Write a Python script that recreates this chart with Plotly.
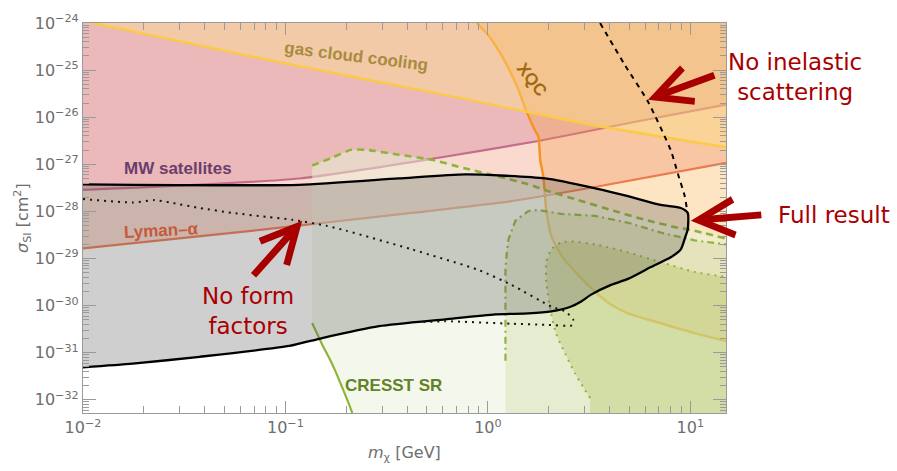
import numpy as np
import plotly.graph_objects as go

# ---------------- data (mass in GeV, cross-section in cm^2) ----------------
X_RANGE = (0.01, 15.0)
Y_RANGE = (10 ** -32.28, 1e-24)

MW_M = [0.01, 0.117, 0.571, 1.774, 5.51, 15]
MW_S = [2.86e-28, 5.0e-28, 1.38e-27, 3.13e-27, 8.2e-27, 1.86e-26]

LY_M = [0.01, 0.0769, 0.42, 1.31, 3.126, 15]
LY_S = [1.64e-29, 4.1e-29, 9.3e-29, 1.66e-28, 3.1e-28, 1.07e-27]

GAS_M = [0.01, 0.1045, 0.571, 3.126, 15]
GAS_S = [1.1e-24, 1.34e-25, 3.16e-26, 7.1e-27, 2.3e-27]

XQC_M = [0.879, 1.007, 1.166, 1.383, 1.531, 1.714, 1.774, 1.815, 1.878, 1.942,
         2.055, 2.303, 2.79, 3.386, 4.057, 4.92, 7.146, 10.51, 15]
XQC_S = [1e-24, 5.42e-25, 2.07e-25, 4.87e-26, 1.54e-26, 5.07e-27, 3.98e-27, 1.19e-27,
         5.53e-28, 1.07e-28, 3.07e-29, 1.17e-29, 4.47e-30, 1.97e-30, 1.05e-30,
         6.84e-31, 4.22e-31, 2.61e-31, 1.77e-31]

FULL_M = [0.01, 0.117, 0.363, 0.776, 1.921, 3.386, 4.92, 7.146, 8.97, 9.705,
          9.705, 9.489, 8.97, 8.0, 6.38, 4.92, 4.057, 3.235, 2.888, 2.579,
          2.055, 1.584, 1.089, 0.618, 0.290, 0.1518, 0.1045, 0.0377, 0.0176, 0.01]
FULL_S = [3.76e-28, 3.67e-28, 5.02e-28, 6.10e-28, 5.02e-28, 3.10e-28, 2.11e-28,
          1.37e-28, 1.18e-28, 9.3e-29, 4.1e-29, 3.07e-29, 1.56e-29, 1.06e-29,
          6.58e-30, 3.69e-30, 2.76e-30, 1.71e-30, 1.22e-30, 9.57e-31, 7.53e-31,
          6.84e-31, 6.52e-31, 5.12e-31, 3.66e-31, 2.05e-31, 1.39e-31, 8.2e-32,
          5.86e-32, 4.9e-32]

NFF_M = [0.01, 0.0176, 0.0226, 0.0268, 0.0377, 0.0547, 0.0805, 0.108, 0.159, 0.199,
         0.421, 0.900, 1.306, 2.055, 2.41, 2.636, 2.61, 1.921, 1.306, 0.618, 0.455]
NFF_S = [1.83e-28, 1.55e-28, 1.74e-28, 1.55e-28, 1.18e-28, 9.3e-29, 7.68e-29, 6.64e-29,
         4.97e-29, 3.91e-29, 1.56e-29, 5.69e-30, 2.76e-30, 9.57e-31, 7.53e-31, 5.12e-31,
         3.84e-31, 3.93e-31, 4.12e-31, 4.65e-31, 4.43e-31]

NIS_M = [3.582, 4.75, 6.17, 8.02, 8.67, 9.38, 9.6]
NIS_S = [1e-24, 1.28e-25, 2.15e-26, 1.94e-27, 6.38e-28, 2.11e-28, 1.18e-28]

CA_M = [0.1355, 0.1698, 0.2108, 0.2501, 0.3631, 0.5272, 0.7762, 1.127, 1.584, 1.921,
        2.79, 4.057, 5.966, 8.673, 9.93, 15]
CA_S = [9.4e-28, 1.38e-27, 2.03e-27, 2.03e-27, 1.60e-27, 1.25e-27, 8.13e-28, 5.53e-28,
        3.76e-28, 2.82e-28, 1.74e-28, 1.07e-28, 6.64e-29, 4.52e-29, 4.10e-29, 2.66e-29]

CR_M = [0.1355, 0.1518, 0.1698, 0.1905, 0.2134, 0.2165]
CR_S = [4.27e-31, 1.50e-31, 5.86e-32, 1.85e-32, 5.3e-33, 3.5e-33]

CC_M = [1.221, 1.221, 1.24, 1.263, 1.367, 1.584, 1.774, 2.303, 3.386, 4.92, 7.146, 10.51, 15]
CC_S = [6.76e-32, 5.97e-30, 1.35e-29, 2.53e-29, 6.33e-29, 1.02e-28, 1.07e-28, 8.87e-29,
        8.05e-29, 5.74e-29, 3.55e-29, 2.42e-29, 1.99e-29]

CD_M = [3.198, 3.022, 2.696, 2.41, 2.177, 2.055, 1.942, 1.942, 2.055, 2.303, 2.579,
        3.386, 4.92, 7.146, 10.51, 15]
CD_S = [1.09e-32, 1.60e-32, 3.62e-32, 9.48e-32, 2.48e-31, 6.52e-31, 3.19e-30, 8.37e-30,
        1.56e-29, 2.19e-29, 2.30e-29, 1.99e-29, 1.35e-29, 8.37e-30, 5.17e-30, 4.06e-30]

X_TICKS = [0.01, 0.1, 1, 10]
X_TICKTEXT = ["10<sup>−2</sup>", "10<sup>−1</sup>", "10<sup>0</sup>", "10<sup>1</sup>"]
Y_EXP = list(range(-32, -23))
Y_TICKS = [10.0 ** e for e in Y_EXP]
Y_TICKTEXT = ["10<sup>−%d</sup>" % (-e) for e in Y_EXP]
X_MINOR = [k * 10.0 ** d for d in range(-2, 2) for k in range(2, 10) if k * 10.0 ** d <= 15]
Y_MINOR = [k * 10.0 ** d for d in range(-33, -24) for k in range(2, 10)]

# ---------------- figure ----------------
fig = go.Figure()
XMIN, XMAX = X_RANGE
YMIN, YMAX = Y_RANGE
BOT = 1e-34
TOP = 1e-23
SM = 0.6


def add_fill(xs, ys, rgba, shape="linear"):
    fig.add_trace(go.Scatter(x=xs, y=ys, mode="lines", fill="toself", fillcolor=rgba,
                             line=dict(width=0, shape=shape, smoothing=SM),
                             hoverinfo="skip", showlegend=False))


def add_line(xs, ys, color, width, dash="solid", shape="spline"):
    fig.add_trace(go.Scatter(x=xs, y=ys, mode="lines",
                             line=dict(color=color, width=width, dash=dash, shape=shape,
                                       smoothing=SM),
                             hoverinfo="skip", showlegend=False))


def add_upper_region(xs, ys, rgba, color, width):
    """Region above a curve, up to the top of the frame (fill to an invisible top edge)."""
    fig.add_trace(go.Scatter(x=[xs[0], xs[-1]], y=[TOP, TOP], mode="lines",
                             line=dict(width=0), hoverinfo="skip", showlegend=False))
    fig.add_trace(go.Scatter(x=xs, y=ys, mode="lines", fill="tonexty", fillcolor=rgba,
                             line=dict(color=color, width=width, shape="spline",
                                       smoothing=SM),
                             hoverinfo="skip", showlegend=False))


# MW satellites, XQC, Lyman-alpha, gas cloud cooling
add_upper_region(MW_M, MW_S, "rgba(184,103,155,0.30)", "rgb(178,100,160)", 2.2)
add_upper_region(XQC_M + [XMAX], XQC_S + [XQC_S[-1]], "rgba(248,165,52,0.30)",
                 "rgb(250,155,0)", 2.4)
add_upper_region(LY_M, LY_S, "rgba(238,128,92,0.30)", "rgb(236,122,78)", 2.2)
add_upper_region(GAS_M, GAS_S, "rgba(255,236,136,0.35)", "rgb(252,202,70)", 2.4)

# CRESST regions
add_fill(CA_M + [XMAX] + CR_M[::-1], CA_S + [BOT] + CR_S[::-1], "rgba(233,241,217,0.5)")
add_fill(CC_M + [XMAX, CC_M[0]], CC_S + [BOT, BOT], "rgba(194,208,143,0.30)")
add_fill([CD_M[0]] + CD_M + [XMAX], [BOT] + CD_S + [BOT], "rgba(169,189,68,0.30)")
GREEN = "rgb(141,181,59)"
add_line(CA_M, CA_S, GREEN, 2.6, "7px,5px")
add_line(CC_M, CC_S, GREEN, 2.2, "7px,4px,2px,4px", shape="linear")
add_line(CD_M, CD_S, GREEN, 2.0, "2px,5px")
add_line(CR_M, CR_S, GREEN, 2.2)

# Full result and variants
add_fill(FULL_M, FULL_S, "rgba(90,90,90,0.29)", shape="spline")
add_line(FULL_M, FULL_S, "black", 2.3)
add_line(NFF_M, NFF_S, "rgb(20,20,20)", 2.0, "2px,5px")
add_line(NIS_M, NIS_S, "black", 2.0, "5px,5px")

# ---------------- axes ----------------
AXC = "#9a9a9a"
TXC = "#6e6e6e"
common = dict(type="log", showgrid=False, zeroline=False, showline=True, linecolor=AXC,
              linewidth=1.2, mirror="allticks", ticks="inside", tickcolor=AXC, tickwidth=1,
              tickmode="array", tickfont=dict(family="DejaVu Sans", size=16, color=TXC))
fig.update_xaxes(range=[np.log10(XMIN), np.log10(XMAX)], tickvals=X_TICKS,
                 ticktext=X_TICKTEXT, ticklen=12,
                 minor=dict(tickmode="array", tickvals=X_MINOR, ticklen=7, ticks="inside",
                            tickcolor=AXC, showgrid=False), **common)
fig.update_yaxes(range=[np.log10(YMIN), np.log10(YMAX)], tickvals=Y_TICKS,
                 ticktext=Y_TICKTEXT, ticklen=13,
                 minor=dict(tickmode="array", tickvals=Y_MINOR, ticklen=6, ticks="inside",
                            tickcolor=AXC, showgrid=False), **common)

# ---------------- annotations ----------------
ann = []
LBL = "Liberation Sans"
for text, xv, yv, ang, col in [
    ("gas cloud cooling", 0.225, 1.97e-25, 7, "#a88c3e"),
    ("XQC", 1.64, 6.2e-26, 52, "#a06914"),
    ("MW satellites", 0.0294, 8.1e-28, 0, "#6b3d6e"),
    ("Lyman–α", 0.0245, 3.9e-29, -3, "#c45a3c"),
    ("CRESST SR", 0.343, 2.04e-32, 0, "#648228"),
]:
    ann.append(dict(text="<b>%s</b>" % text, x=np.log10(xv), y=np.log10(yv), xref="x",
                    yref="y", showarrow=False, textangle=ang, xanchor="center",
                    yanchor="middle", font=dict(family=LBL, size=17, color=col)))

RED = "#a80000"
for text, px, py in [("No inelastic<br>scattering", 1.107, 0.862),
                     ("Full result", 1.1687, 0.508),
                     ("No form<br>factors", 0.2566, 0.262)]:
    ann.append(dict(text=text, x=px, y=py, xref="paper", yref="paper", showarrow=False,
                    align="center", xanchor="center", yanchor="middle",
                    font=dict(family="DejaVu Sans", size=23, color=RED)))

for xv, yv, ax, ay in [(6.17, 2.36e-26, 68, -25), (10.05, 6.33e-29, 72, -6),
                       (0.121, 6.33e-29, -50, 56)]:
    ann.append(dict(text="", x=np.log10(xv), y=np.log10(yv), xref="x", yref="y",
                    showarrow=True, ax=ax, ay=ay, arrowhead=5, arrowsize=1, arrowwidth=7,
                    arrowcolor=RED))

ann.append(dict(text="<i>m</i><sub>χ</sub> [GeV]", x=0.5, y=-0.105, xref="paper",
                yref="paper", showarrow=False, xanchor="center", yanchor="middle",
                font=dict(family="DejaVu Sans", size=16, color=TXC)))
ann.append(dict(text="<i>σ</i><sub>SI</sub> [cm<sup>2</sup>]", x=-0.095, y=0.5,
                xref="paper", yref="paper", showarrow=False, textangle=-90,
                xanchor="center", yanchor="middle",
                font=dict(family="DejaVu Sans", size=16, color=TXC)))

fig.update_layout(width=897, height=471, autosize=False,
                  margin=dict(l=83, r=171, t=17, b=58),
                  paper_bgcolor="white", plot_bgcolor="white", annotations=ann,
                  showlegend=False)

fig.write_html("out.html")
